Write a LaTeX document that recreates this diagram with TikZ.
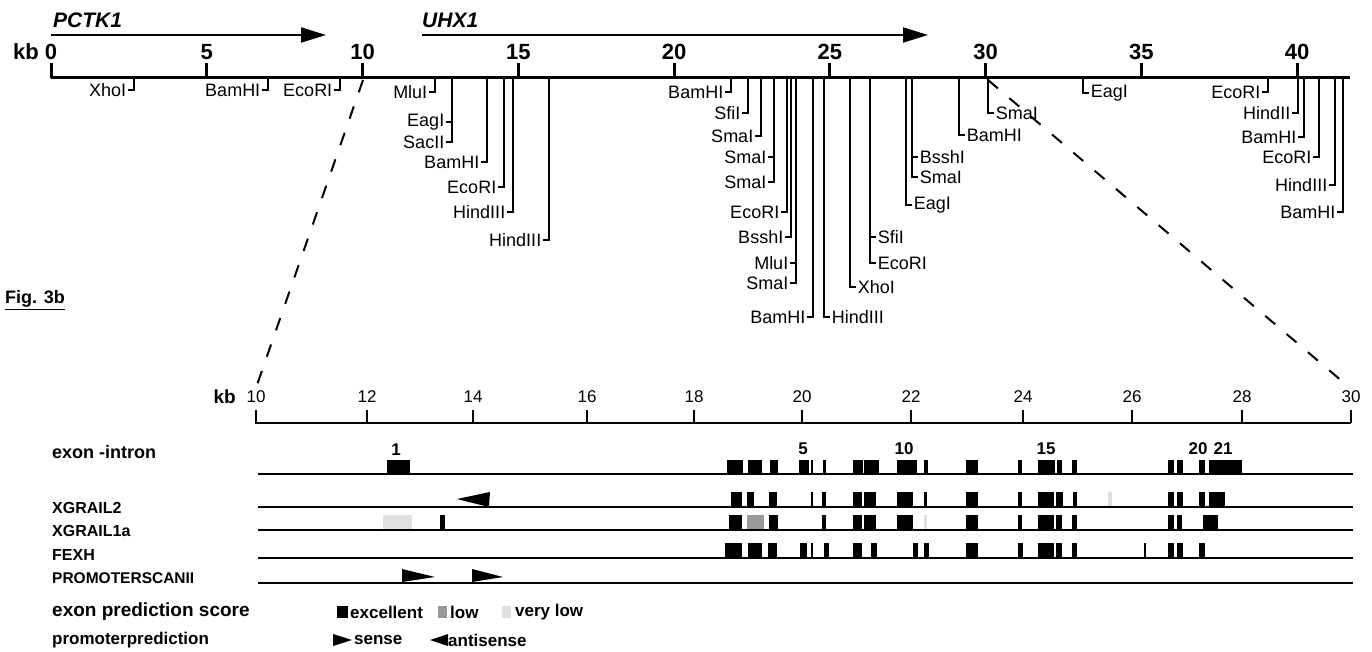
\documentclass[tikz,border=0pt]{standalone}
\usepackage{fontspec}
\setmainfont{Liberation Sans}
\usetikzlibrary{arrows.meta}
\newcommand\sL[4]{\draw[site] (#1,78) -- (#1,#2) -- ({#1-6},#2) node[anchor=east,lab] (#4) {#3};}
\newcommand\sR[4]{\draw[site] (#1,78) -- (#1,#2) -- ({#1+6},#2) node[anchor=west,lab] (#4) {#3};}
\newcommand\hL[4]{\draw[site] (#1,#2) -- ({#1-6},#2) node[anchor=east,lab] (#4) {#3};}
\newcommand\hR[4]{\draw[site] (#1,#2) -- ({#1+6},#2) node[anchor=west,lab] (#4) {#3};}
\begin{document}
\begin{tikzpicture}[x=1pt,y=-1pt,
  lab/.style={font=\fontsize{18}{18}\selectfont, inner sep=1pt},
  site/.style={line width=1.5pt},
  ax/.style={line width=3pt},
  bigtick/.style={font=\fontsize{22}{22}\selectfont\bfseries, inner sep=0pt},
  smalltick/.style={font=\fontsize{17}{17}\selectfont, inner sep=0pt},
  gene/.style={font=\fontsize{21}{21}\selectfont\bfseries\itshape, anchor=west, inner sep=0pt},
  trk/.style={line width=2pt},
  trklab/.style={font=\fontsize{16}{16}\selectfont\bfseries, anchor=west, inner sep=0pt},
  leglab/.style={font=\fontsize{19}{19}\selectfont\bfseries, anchor=west, inner sep=0pt},
  keytext/.style={font=\fontsize{17}{17}\selectfont\bfseries, anchor=west, inner sep=0pt},
  exnum/.style={font=\fontsize{17}{17}\selectfont\bfseries, inner sep=0pt},
  zoomline/.style={line width=2pt, dash pattern=on 13pt off 15pt},
  gene arrow/.style={line width=2pt, -{Triangle[length=25pt,width=15pt]}},
  lowfill/.style={fill=black!40},
  vlowfill/.style={fill=black!12}
]
\useasboundingbox (0,0) rectangle (1372,652);

% ---------------- top map ----------------
\node[gene] (pctk) at (53,20) {PCTK1};
\node[gene] (uhx) at (422,20) {UHX1};
\coordinate (pa) at (51,35);  \coordinate (pb) at (326,35);
\coordinate (ua) at (422,35); \coordinate (ub) at (928,35);
\draw[gene arrow] (pa) -- (pb);
\draw[gene arrow] (ua) -- (ub);

\node[bigtick, anchor=east] (kbtop) at (39,52) {kb};
\draw[ax] (51,78) -- (1350,78);
\foreach \k in {0,5,...,40} {
  \pgfmathsetmacro{\xx}{51+31.15*\k}
  \draw[ax] (\xx,78) -- (\xx,63);
  \node[bigtick] (t\k) at (\xx,52) {\k};
}

% restriction sites
\sL{134}{90}{XhoI}{s1}
\sL{268}{90}{BamHI}{s2}
\sL{340}{90}{EcoRI}{s3}
\sL{435}{92}{MluI}{s4}
\sL{452}{142}{SacII}{s6} \hL{452}{122}{EagI}{s5}
\sL{487}{162}{BamHI}{s7}
\sL{504}{187}{EcoRI}{s8}
\sL{513}{212}{HindIII}{s9}
\sL{549}{240}{HindIII}{s10}
\sL{731}{92}{BamHI}{s11}
\sL{748}{113}{SfiI}{s12}
\sL{761}{136}{SmaI}{s13}
\sL{774}{182}{SmaI}{s15} \hL{774}{157}{SmaI}{s14}
\sL{787}{212}{EcoRI}{s16}
\sL{791}{237}{BsshI}{s17}
\sL{796}{283}{SmaI}{s19} \hL{796}{263}{MluI}{s18}
\sL{813}{317}{BamHI}{s20}
\sR{824}{317}{HindIII}{s21}
\sR{850}{287}{XhoI}{s22}
\sR{870}{263}{EcoRI}{s24} \hR{870}{237}{SfiI}{s23}
\sR{906}{205}{EagI}{s25}
\sR{912}{177}{SmaI}{s27} \hR{912}{157}{BsshI}{s26}
\sR{959}{135}{BamHI}{s28}
\sR{988}{113}{SmaI}{s29}
\sR{1083}{93}{EagI}{s30}
\sL{1268}{92}{EcoRI}{s31}
\sL{1298}{113}{HindII}{s32}
\sL{1304}{137}{BamHI}{s33}
\sL{1319}{157}{EcoRI}{s34}
\sL{1335}{185}{HindIII}{s35}
\sL{1343}{212}{BamHI}{s36}

% zoom lines
\coordinate (za) at (363,80);  \coordinate (zb) at (257,385);
\coordinate (zc) at (988,80);  \coordinate (zd) at (1350,388);
\draw[zoomline] (za) -- (zb);
\draw[zoomline] (zc) -- (zd);

\node[font=\fontsize{18}{18}\selectfont\bfseries, anchor=west, inner sep=0pt] (fig) at (5,300) {\underline{Fig. 3b}};

% ---------------- bottom axis ----------------
\node[font=\fontsize{19}{19}\selectfont\bfseries, anchor=east, inner sep=0pt] (kbbot) at (236,397) {kb};
\draw[line width=1.6pt] (256,410) -- (256,423) -- (1351,423);
\foreach \k/\xx in {10/256,12/367,14/473,16/587,18/694,20/802,22/911,24/1023,26/1132,28/1242,30/1351} {
  \draw[line width=1.6pt] (\xx,423) -- (\xx,410);
  \node[smalltick] (b\k) at (\xx,397) {\k};
}

% ---------------- tracks ----------------
\node[trklab, font=\fontsize{18}{18}\selectfont\bfseries] (lE) at (52,452) {exon -intron};
\node[trklab] (lX2) at (52,508) {XGRAIL2};
\node[trklab] (lX1) at (52,531) {XGRAIL1a};
\node[trklab] (lF) at (52,555) {FEXH};
\node[trklab, font=\fontsize{15.5}{16}\selectfont\bfseries] (lP) at (52,578) {PROMOTERSCANII};

\foreach \yy in {474,507,530,558,583} \draw[trk] (258,\yy) -- (1353,\yy);

% exon-intron
\foreach \a/\b in {387/410,727/743,748/762,770/778,799/809,811/813,823/826,853/863,864/879,897/917,924/928,966/978,1018/1022,1038/1055,1057/1062,1072/1077,1168/1174,1177/1183,1199/1205,1209/1242}
  \fill (\a,474) rectangle (\b,460);
\node[exnum] (e1) at (396,450) {1};
\node[exnum] (e5) at (803,449) {5};
\node[exnum] (e10) at (904,449) {10};
\node[exnum] (e15) at (1046,449) {15};
\node[exnum] (e20) at (1198,449) {20};
\node[exnum] (e21) at (1223,449) {21};

% XGRAIL2
\foreach \a/\b in {731/742,747/754,769/777,811/813,822/826,853/862,864/876,897/913,924/927,966/978,1018/1022,1038/1054,1056/1063,1073/1077,1168/1174,1177/1183,1199/1205,1209/1225}
  \fill (\a,507) rectangle (\b,492);
\fill[vlowfill] (1108,506) rectangle (1112,492);
\fill (457,499) -- (490,492) -- (489,507) -- cycle;

% XGRAIL1a
\foreach \a/\b in {440/445,729/742,769/778,822/826,853/862,864/876,897/913,966/978,1018/1022,1038/1054,1056/1062,1072/1077,1168/1174,1177/1182,1203/1218}
  \fill (\a,530) rectangle (\b,515);
\fill[lowfill] (747,529) rectangle (764,515);
\fill[vlowfill] (383,529) rectangle (412,515);
\fill[vlowfill] (924,529) rectangle (927,515);

% FEXH
\foreach \a/\b in {725/742,748/762,768/777,800/807,811/813,824/829,853/862,871/877,913/918,924/929,966/978,1018/1023,1038/1054,1056/1062,1072/1077,1144/1146,1168/1174,1177/1183,1199/1205}
  \fill (\a,558) rectangle (\b,543);

% PROMOTERSCANII
\fill (402,569) -- (435,577) -- (402,582) -- cycle;
\fill (472,569) -- (503,577) -- (472,582) -- cycle;

% ---------------- legend ----------------
\node[leglab] (lS) at (52,612) {exon prediction score};
\node[leglab, font=\fontsize{17}{17}\selectfont\bfseries] (lPr) at (52,640) {promoterprediction};
\fill (337,606) rectangle (348,618);
\node[keytext] (kexc) at (350,612) {excellent};
\fill[lowfill] (438,606) rectangle (447,618);
\node[keytext] (klow) at (450,612) {low};
\fill[vlowfill] (502,606) rectangle (511,618);
\node[keytext] (kvlow) at (515,612) {very low};
\fill (333,634) -- (352,640) -- (333,646) -- cycle;
\node[keytext] (ksense) at (354,640) {sense};
\fill (430,640) -- (448,634) -- (448,646) -- cycle;
\node[keytext] (kanti) at (448,640) {antisense};
\end{tikzpicture}
\end{document}
